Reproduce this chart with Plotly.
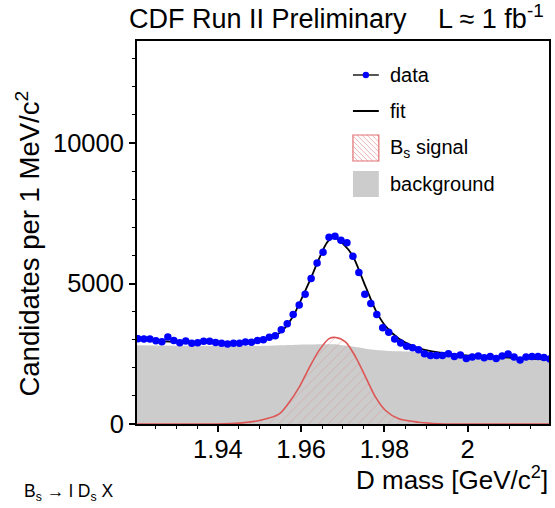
import plotly.graph_objects as go

# ---------------- data ----------------
mass_bins = [1.92080, 1.92223, 1.92367, 1.92510, 1.92654, 1.92797, 1.92940, 1.93084, 1.93227, 1.93371,
             1.93514, 1.93657, 1.93801, 1.93944, 1.94088, 1.94231, 1.94374, 1.94518, 1.94661, 1.94805,
             1.94948, 1.95091, 1.95235, 1.95378, 1.95522, 1.95665, 1.95808, 1.95952, 1.96095, 1.96239,
             1.96382, 1.96525, 1.96669, 1.96812, 1.96956, 1.97099, 1.97242, 1.97386, 1.97529, 1.97673,
             1.97816, 1.97959, 1.98103, 1.98246, 1.98390, 1.98533, 1.98676, 1.98820, 1.98963, 1.99107,
             1.99250, 1.99393, 1.99537, 1.99680, 1.99824, 1.99967, 2.00110, 2.00254, 2.00397, 2.00541,
             2.00684, 2.00827, 2.00971, 2.01114, 2.01258, 2.01401, 2.01544, 2.01688, 2.01831, 2.01975]
candidates = [3037, 3024, 3024, 2966, 2930, 3100, 2970, 2895, 2953, 2870,
              2895, 2945, 2945, 2900, 2870, 2845, 2870, 2870, 2917, 2910,
              2970, 2995, 3084, 3144, 3358, 3572, 3893, 4237, 4617, 5175,
              5733, 6114, 6649, 6684, 6542, 6446, 5971, 5390, 4617, 4284,
              3893, 3429, 3262, 3024, 2881, 2763, 2715, 2644, 2502, 2442,
              2442, 2442, 2502, 2406, 2454, 2335, 2383, 2418, 2359, 2406,
              2335, 2418, 2490, 2383, 2276, 2383, 2406, 2406, 2371, 2312]

fit_mass = [1.9205, 1.92605, 1.93402, 1.94201, 1.94998, 1.95316, 1.95555, 1.95794, 1.95955, 1.96194,
            1.96433, 1.96632, 1.96792, 1.9700, 1.9723, 1.9755, 1.9779, 1.9803, 1.9835, 1.98746,
            1.99144, 1.99943, 2.0074, 2.0196]
fit_values = [3010, 2952, 2905, 2865, 2952, 3094, 3333, 3808, 4285, 5055,
              5890, 6482, 6640, 6420, 6007, 4877, 4046, 3476, 3037, 2738,
              2585, 2442, 2382, 2290]

signal_mass = [1.9205, 1.93962, 1.94519, 1.94997, 1.95475, 1.95714, 1.95953, 1.96192, 1.96431, 1.96670,
               1.96830, 1.97070, 1.97309, 1.97548, 1.97787, 1.98026, 1.98344, 1.98822, 1.99300, 1.99778,
               2.0196]
signal_values = [0, 0, 30, 125, 363, 777, 1312, 2000, 2620, 3037,
                 3080, 2917, 2382, 1669, 955, 481, 185, 64, 10, 0,
                 0]

bkg_mass = [1.9205, 1.9475, 1.95953, 1.9683, 1.9699, 1.9731, 1.9755, 1.9795, 1.9834, 1.9906,
            1.9914, 1.99943, 2.0074, 2.0196]
bkg_values = [2800, 2775, 2823, 2834, 2800, 2738, 2681, 2620, 2585, 2549,
              2530, 2442, 2382, 2288]

x_tickvals = [1.94, 1.96, 1.98, 2.0]
x_ticktext = ["1.94", "1.96", "1.98", "2"]
y_tickvals = [0, 5000, 10000]
y_ticktext = ["0", "5000", "10000"]

FONT = "Liberation Sans, Arial, Helvetica, sans-serif"
SIG_COLOR = "#dd5555"

fig = go.Figure()

fig.add_trace(go.Scatter(
    x=bkg_mass, y=bkg_values, name="background", mode="lines",
    line=dict(width=0, color="#cccccc", shape="spline", smoothing=0.6),
    fill="tozeroy", fillcolor="#cccccc", showlegend=False, hoverinfo="skip"))

fig.add_trace(go.Scatter(
    x=signal_mass, y=signal_values, name="B<sub>s</sub> signal", mode="lines",
    line=dict(width=1.6, color=SIG_COLOR, shape="spline", smoothing=0.8),
    fill="tozeroy", fillcolor="rgba(0,0,0,0)",
    fillpattern=dict(shape="/", fgcolor="rgba(225,110,110,0.75)", bgcolor="rgba(0,0,0,0)",
                     size=7, solidity=0.12),
    showlegend=False))

fig.add_trace(go.Scatter(
    x=fit_mass, y=fit_values, name="fit", mode="lines",
    line=dict(width=1.8, color="black", shape="spline", smoothing=0.8),
    showlegend=False))

fig.add_trace(go.Scatter(
    x=mass_bins, y=candidates, name="data", mode="markers",
    marker=dict(color="#0000ff", size=7.5, line=dict(width=0)),
    showlegend=False))

# ---------------- layout geometry (reference pixels) ----------------
W, H = 555, 508
PLOT_L, PLOT_R, PLOT_T, PLOT_B = 137, 551, 41, 424   # frame edges in the reference
L, T, R, B = PLOT_L, PLOT_T, W - PLOT_R, H - PLOT_B
PW, PH = PLOT_R - PLOT_L, PLOT_B - PLOT_T


def px2paper(px, py):
    return (px - PLOT_L) / PW, (PLOT_B - py) / PH


annotations = []
shapes = []


def add_text(text, px, py, size, xanchor="left", yanchor="middle", angle=0):
    xp, yp = px2paper(px, py)
    annotations.append(dict(text=text, x=xp, y=yp, xref="paper", yref="paper",
                            xanchor=xanchor, yanchor=yanchor, showarrow=False,
                            textangle=angle, font=dict(family=FONT, size=size, color="black")))


add_text("CDF Run II Preliminary", 127, 19, 27)
add_text("L \u2248 1 fb<sup>-1</sup>", 548, 17, 27, xanchor="right")
add_text("D mass [GeV/c<sup>2</sup>]", 552, 478, 26, xanchor="right")
add_text("Candidates per 1 MeV/c<sup>2</sup>", 27, 244, 27.5, xanchor="center", angle=-90)
add_text("B<sub>s</sub> \u2192 l D<sub>s</sub> X", 21, 492, 17.5)

# ---------------- hand-drawn legend (ROOT style) ----------------
leg_x0, leg_x1 = 354, 380
rows = [75, 111, 148, 184]
names = ["data", "fit", "B<sub>s</sub> signal", "background"]
for name, yc in zip(names, rows):
    add_text(name, 389, yc, 20)


def seg(x0, y0, x1, y1, color, width):
    a, b = px2paper(x0, y0)
    c, d = px2paper(x1, y1)
    shapes.append(dict(type="line", xref="paper", yref="paper", x0=a, y0=b, x1=c, y1=d,
                       line=dict(color=color, width=width)))


def rect(x0, y0, x1, y1, fill, line_color, width):
    a, b = px2paper(x0, y1)
    c, d = px2paper(x1, y0)
    shapes.append(dict(type="rect", xref="paper", yref="paper", x0=a, y0=b, x1=c, y1=d,
                       fillcolor=fill, line=dict(color=line_color, width=width)))


# data entry: line + dot
seg(leg_x0, rows[0], leg_x1, rows[0], "#555555", 2)
cx0, cy0 = px2paper(367 - 3.2, rows[0] - 3.2)
cx1, cy1 = px2paper(367 + 3.2, rows[0] + 3.2)
shapes.append(dict(type="circle", xref="paper", yref="paper", x0=cx0, y0=cy1, x1=cx1, y1=cy0,
                   fillcolor="#0000ff", line=dict(width=0)))
# fit entry
seg(leg_x0, rows[1], leg_x1, rows[1], "black", 2)
# signal entry: hatched box
by0, by1 = rows[2] - 13, rows[2] + 13
rect(leg_x0, by0, leg_x1, by1, "white", "#e07070", 1.2)
step = 5
for k in range(1, 11):
    c = k * step
    xa, ya = leg_x0, by1 - c
    xb, yb = leg_x0 + c, by1
    if ya < by0:
        xa, ya = leg_x0 + (by0 - ya), by0
    if xb > leg_x1:
        yb, xb = by1 - (xb - leg_x1), leg_x1
    if xa < leg_x1 and yb > by0:
        seg(xa, ya, xb, yb, "rgba(225,120,120,0.7)", 0.8)
# background entry
rect(leg_x0, rows[3] - 13, leg_x1, rows[3] + 13, "#cccccc", "#cccccc", 0)

axis_common = dict(showline=True, linecolor="black", linewidth=2, mirror=True,
                   ticks="outside", tickcolor="black", tickwidth=1.5, ticklen=6,
                   showgrid=False, zeroline=False,
                   tickfont=dict(family=FONT, size=25.5, color="black"))

fig.update_layout(
    width=W, height=H,
    margin=dict(l=L, r=R, t=T, b=B),
    paper_bgcolor="white", plot_bgcolor="white",
    showlegend=False,
    annotations=annotations, shapes=shapes,
    xaxis=dict(range=[1.92056, 2.01953], tickmode="array", tickvals=x_tickvals, ticktext=x_ticktext,
               ticklabelstandoff=-5,
               minor=dict(tickmode="linear", tick0=1.92, dtick=0.005, ticks="outside", ticklen=3,
                          tickcolor="black", tickwidth=1.2, showgrid=False),
               **axis_common),
    yaxis=dict(range=[0, 13630], tickmode="array", tickvals=y_tickvals, ticktext=y_ticktext,
               minor=dict(tickmode="linear", tick0=0, dtick=1000, ticks="outside", ticklen=3,
                          tickcolor="black", tickwidth=1.2, showgrid=False),
               **axis_common),
)

# remove the browser's default 8px page margin so the figure fills the window exactly
fig.write_html("out.html", config={"displayModeBar": False},
               post_script="document.body.style.margin='0';")
